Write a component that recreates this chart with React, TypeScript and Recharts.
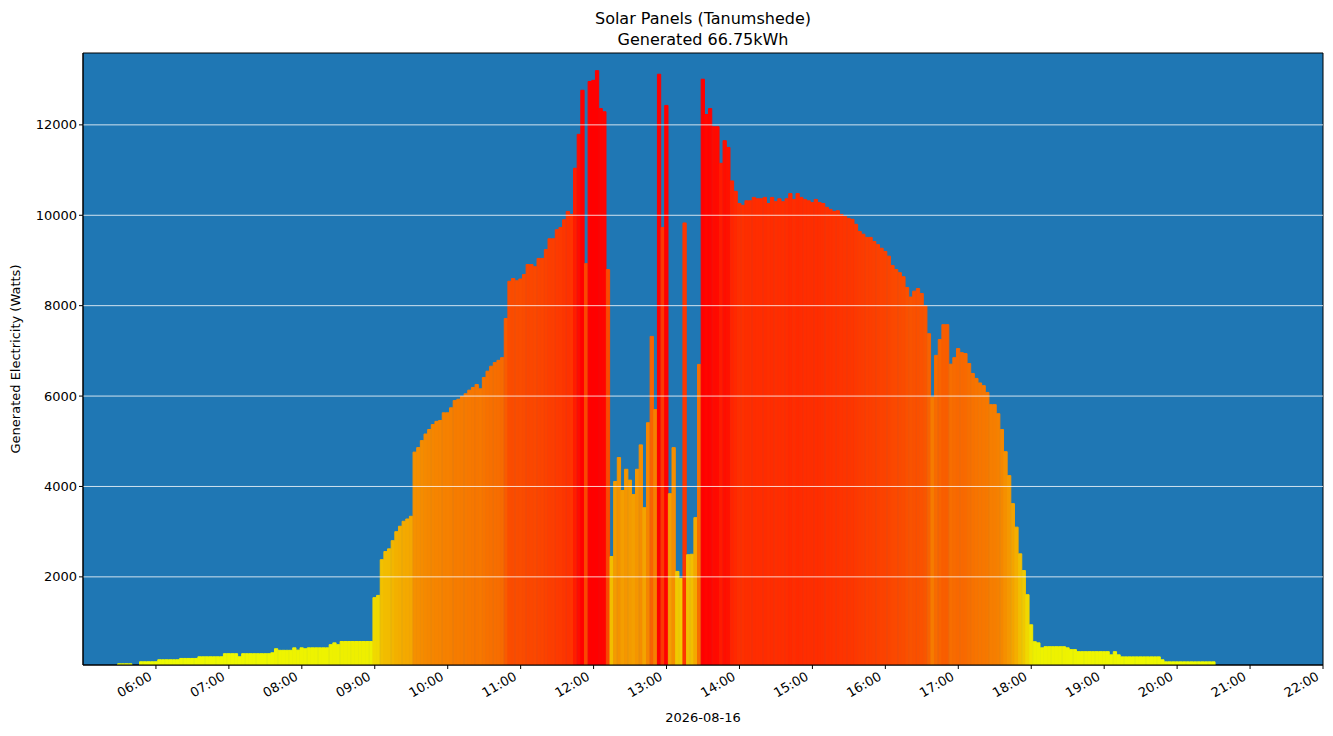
import { BarChart, Bar, Cell, XAxis, YAxis, CartesianGrid, ReferenceLine, ReferenceArea } from "recharts";

// one reading every 3 minutes, starting 05:30
const startMinute = 330;
const stepMinutes = 3;

const watts: (number | null)[] = [
  77, 77, 77, 77, null, null, 122, 122, 122, 122, // 05:30
  122, 166, 166, 166, 166, 166, 166, 195, 195, 195, // 06:00
  195, 195, 232, 232, 232, 232, 232, 232, 232, 300, // 06:30
  300, 300, 300, 232, 300, 300, 300, 300, 300, 300, // 07:00
  300, 300, 320, 410, 375, 375, 375, 375, 430, 380, // 07:30
  430, 410, 430, 430, 430, 430, 430, 430, 500, 540, // 08:00
  500, 570, 570, 570, 570, 570, 570, 570, 570, 570, // 08:30
  1540, 1590, 2380, 2560, 2620, 2800, 3000, 3120, 3230, 3280, // 09:00
  3340, 4760, 4860, 5015, 5160, 5260, 5370, 5440, 5460, 5630, // 09:30
  5630, 5740, 5900, 5930, 5990, 6050, 6130, 6190, 6255, 6160, // 10:00
  6410, 6550, 6660, 6740, 6790, 6850, 7715, 8540, 8600, 8550, // 10:30
  8590, 8690, 8910, 8910, 8860, 9045, 9045, 9240, 9480, 9480, // 11:00
  9680, 9730, 9900, 10085, 10020, 11040, 11790, 12765, 8930, 12960, // 11:30
  12985, 13200, 12360, 12290, 8800, 2450, 4110, 4640, 3910, 4380, // 12:00
  4140, 3820, 4380, 4920, 3530, 5410, 7320, 5700, 13120, 9730, // 12:30
  12430, 3840, 4860, 2120, 1965, 9830, 2490, 2500, 3310, 6700, // 13:00
  13010, 12230, 12360, 11960, 11960, 11150, 11650, 11500, 10760, 10530, // 13:30
  10260, 10220, 10320, 10320, 10395, 10365, 10365, 10395, 10260, 10395, // 14:00
  10300, 10365, 10300, 10365, 10480, 10350, 10480, 10395, 10350, 10320, // 14:30
  10280, 10350, 10280, 10260, 10175, 10130, 10085, 10100, 10020, 9970, // 15:00
  9930, 9910, 9800, 9640, 9580, 9510, 9510, 9420, 9350, 9270, // 15:30
  9200, 9095, 8890, 8800, 8730, 8640, 8400, 8190, 8320, 8380, // 16:00
  8270, 8000, 7380, 5975, 6900, 7250, 7580, 7580, 6705, 6850, // 16:30
  7050, 6960, 6940, 6720, 6500, 6390, 6290, 6230, 6080, 5810, // 17:00
  5810, 5610, 5260, 4770, 4240, 3620, 3100, 2510, 2140, 1605, // 17:30
  940, 565, 540, 430, 455, 455, 455, 455, 455, 455, // 18:00
  430, 390, 390, 345, 345, 345, 345, 345, 345, 345, // 18:30
  345, 345, 275, 345, 275, 230, 230, 230, 230, 230, // 19:00
  230, 230, 230, 230, 230, 230, 165, 120, 120, 120, // 19:30
  120, 120, 120, 120, 120, 120, 120, 120, 120, 120, // 20:00
  120, // 20:30
];

const xTicks = [360, 420, 480, 540, 600, 660, 720, 780, 840, 900, 960, 1020, 1080, 1140, 1200, 1260, 1320];
const yTicks = [2000, 4000, 6000, 8000, 10000, 12000];

// yellow -> red, like the original colour map
const colourStops: [number, number, number][] = [
  [0, 238, 255],
  [600, 238, 238],
  [1600, 240, 216],
  [2500, 242, 190],
  [3300, 244, 168],
  [5000, 245, 140],
  [6500, 247, 114],
  [8000, 249, 86],
  [9500, 252, 62],
  [10500, 255, 42],
  [11500, 255, 18],
  [12500, 255, 0],
];

const colourFor = (v: number) => {
  for (let i = 0; i < colourStops.length - 1; i++) {
    const [a, ra, ga] = colourStops[i];
    const [b, rb, gb] = colourStops[i + 1];
    if (v <= b) {
      const f = Math.max(0, (v - a) / (b - a));
      return `rgb(${Math.round(ra + (rb - ra) * f)},${Math.round(ga + (gb - ga) * f)},0)`;
    }
  }
  return "rgb(255,0,0)";
};

const data = watts.map((w, i) => ({ t: startMinute + i * stepMinutes, w }));

const hhmm = (m: number) => `${String(Math.floor(m / 60)).padStart(2, "0")}:${String(m % 60).padStart(2, "0")}`;

const font = "'DejaVu Sans', sans-serif";

const XTick = ({ x, y, payload }: { x: number; y: number; payload: { value: number } }) => {
  const ax = x - 3;
  const ay = y + 8;
  return (
    <text x={ax} y={ay} transform={`rotate(-30, ${ax}, ${ay})`} textAnchor="end" fontSize={13} fontFamily={font} fill="#000">
      {hhmm(payload.value)}
    </text>
  );
};

export default function App() {
  return (
    <div style={{ position: "absolute", left: 0, top: 0, width: 1333, height: 736, background: "#fff", fontFamily: font, color: "#000" }}>
      <div style={{ position: "absolute", left: 0, width: 1406, top: 8, textAlign: "center", fontSize: 16, lineHeight: "21px" }}>
        Solar Panels (Tanumshede)
        <br />
        Generated 66.75kWh
      </div>
      <div
        style={{
          position: "absolute",
          left: 15,
          top: 359,
          fontSize: 13,
          lineHeight: 1,
          whiteSpace: "nowrap",
          transform: "translate(-50%, -50%) rotate(-90deg)",
        }}
      >
        Generated Electricity (Watts)
      </div>
      <div style={{ position: "absolute", left: 0, width: 1406, top: 710, textAlign: "center", fontSize: 13, lineHeight: "16px" }}>
        2026-08-16
      </div>
      <div style={{ position: "absolute", left: 0, top: 0 }}>
        <BarChart
          width={1333}
          height={736}
          data={data}
          margin={{ top: 53, right: 10, bottom: 21, left: 0 }}
          barCategoryGap={0}
          barGap={0}
        >
          <CartesianGrid horizontal={false} vertical={false} fill="#1f77b4" />
          <XAxis
            dataKey="t"
            type="number"
            domain={[300, 1320]}
            ticks={xTicks}
            allowDataOverflow
            height={50}
            tickSize={4}
            stroke="#000"
            tick={XTick}
            interval={0}
          />
          <YAxis
            type="number"
            domain={[50, 13590]}
            ticks={yTicks}
            allowDataOverflow
            width={83}
            tickSize={4}
            stroke="#000"
            tick={{ fill: "#000", fontSize: 13, fontFamily: font }}
          />
          <Bar dataKey="w" barSize={4} isAnimationActive={false}>
            {data.map((d) => {
              const c = d.w == null ? "none" : colourFor(d.w);
              return <Cell key={d.t} fill={c} stroke={c} strokeWidth={1} />;
            })}
          </Bar>
          {yTicks.map((v) => (
            <ReferenceLine key={v} y={v} stroke="#ffffff" strokeWidth={0.8} />
          ))}
          <ReferenceArea x1={300} x2={1320} y1={50} y2={13590} fill="none" stroke="#000" strokeWidth={1} />
        </BarChart>
      </div>
    </div>
  );
}
